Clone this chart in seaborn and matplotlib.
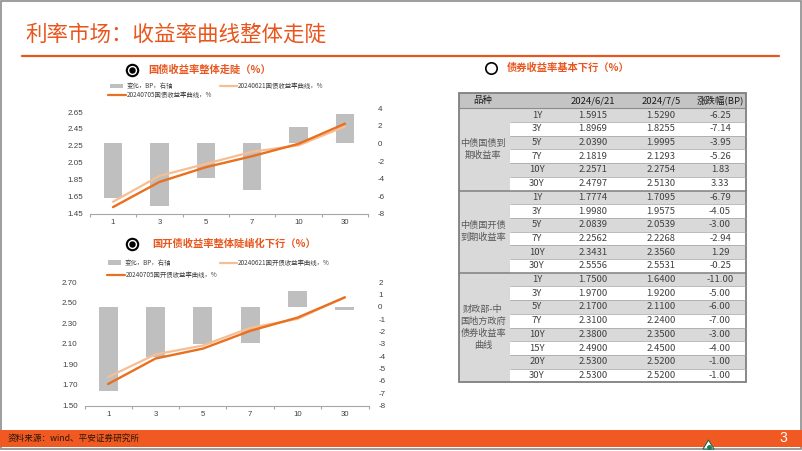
import numpy as np
import pandas as pd
import matplotlib
matplotlib.use('Agg')
import matplotlib.pyplot as plt
import seaborn as sns
from matplotlib.patches import Rectangle, Polygon
from matplotlib.lines import Line2D

# ---------------- data ----------------
tenors = ['1', '3', '5', '7', '10', '30']
gz_0621 = [1.5915, 1.8969, 2.0390, 2.1819, 2.2571, 2.4797]
gz_0705 = [1.5290, 1.8255, 1.9995, 2.1293, 2.2754, 2.5130]
gz_chg = [-6.25, -7.14, -3.95, -5.26, 1.83, 3.33]

gk_0621 = [1.7774, 1.9980, 2.0839, 2.2562, 2.3431, 2.5556]
gk_0705 = [1.7095, 1.9575, 2.0539, 2.2268, 2.3560, 2.5531]
gk_chg = [-6.79, -4.05, -3.00, -2.94, 1.29, -0.25]

gz_terms = ['1Y', '3Y', '5Y', '7Y', '10Y', '30Y']
gk_terms = ['1Y', '3Y', '5Y', '7Y', '10Y', '30Y']
df_terms = ['1Y', '3Y', '5Y', '7Y', '10Y', '15Y', '20Y', '30Y']
df_0621 = [1.75, 1.97, 2.17, 2.31, 2.38, 2.49, 2.53, 2.53]
df_0705 = [1.64, 1.92, 2.11, 2.24, 2.35, 2.45, 2.52, 2.52]
df_chg = [-11.00, -5.00, -6.00, -7.00, -3.00, -4.00, -1.00, -1.00]

group_labels = ['中债国债到\n期收益率', '中债国开债\n到期收益率', '财政部-中\n国地方政府\n债券收益率\n曲线']
header = ['品种', '', '2024/6/21', '2024/7/5', '涨跌幅(BP)']

# ---------------- style ----------------
sns.set_theme(style='white')
plt.rcParams['font.family'] = ['Liberation Sans', 'Noto Sans CJK SC', 'DejaVu Sans']
CJK = ['Noto Sans CJK SC', 'DejaVu Sans']
ORANGE = '#E8561E'
C0621 = '#F6BE94'
C0705 = '#E8701E'
BARC = '#BFBFBF'
TXT = '#404040'

W, H = 802, 451
fig = plt.figure(figsize=(W / 100, H / 100), dpi=100)

ov = fig.add_axes([0, 0, 1, 1])
ov.set_xlim(0, W)
ov.set_ylim(H, 0)
ov.axis('off')

# slide frame
ov.add_patch(Rectangle((0.8, 0.8), W - 1.6, 448.5, fill=False, ec='#8C8C8C', lw=1.2))
# title
ov.text(25, 35, '利率市场：收益率曲线整体走陡', fontsize=15.5, color=ORANGE,
        family=CJK, va='center', ha='left')
ov.add_line(Line2D([22, 779], [56, 56], color=ORANGE, lw=1.6))

# footer
ov.add_patch(Rectangle((0, 430), W, 17, color='#F05A22', lw=0))
ov.text(8, 438.5, '资料来源：wind、平安证券研究所', fontsize=6.2, color='#2A1608',
        family=CJK, va='center', ha='left')
ov.text(783, 438.5, '3', fontsize=10, color='white', va='center', ha='center')
ov.add_patch(Polygon([[703, 449], [708.5, 440], [714, 449]], closed=True,
                     fc='white', ec='#1E6B4E', lw=0.8))
ov.plot([708.5], [446.5], marker='o', ms=2.5, color='#1E7B5A')


def bullet(x, y, filled=True):
    ov.plot([x], [y], marker='o', ms=8.2, mfc='white', mec='black', mew=1.5 if filled else 1.2)
    if filled:
        ov.plot([x], [y], marker='o', ms=3.6, color='black')


def legend(x_bar, y1, x_l1, x_l2, y2, lab1, lab2):
    ov.add_patch(Rectangle((x_bar, y1 - 2.3), 13, 4.6, color=BARC, lw=0))
    ov.text(x_bar + 17, y1, '变化，BP，右轴', fontsize=4.6, color=TXT, family=CJK,
            va='center', ha='left')
    ov.add_line(Line2D([x_l1, x_l1 + 17], [y1, y1], color=C0621, lw=1.6))
    ov.text(x_l1 + 18, y1, lab1, fontsize=4.6, color=TXT, family=CJK, va='center', ha='left')
    ov.add_line(Line2D([x_l2, x_l2 + 18], [y2, y2], color=C0705, lw=1.6))
    ov.text(x_l2 + 19, y2, lab2, fontsize=4.6, color=TXT, family=CJK, va='center', ha='left')


# subtitles
bullet(131.7, 70)
ov.text(148, 70, '国债收益率整体走陡（%）', fontsize=7.4, color=ORANGE, family=CJK,
        va='center', ha='left', weight='bold')
legend(110, 86, 220, 108, 95, '20240621国债收益率曲线，%', '20240705国债收益率曲线，%')

bullet(132.3, 243.8)
ov.text(152.5, 244, '国开债收益率整体陡峭化下行（%）', fontsize=7.4, color=ORANGE, family=CJK,
        va='center', ha='left', weight='bold')
legend(108, 262.7, 220, 107, 275, '20240621国开债收益率曲线，%', '20240705国开债收益率曲线，%')

bullet(491, 67.7, filled=False)
ov.text(506.5, 68, '债券收益率基本下行（%）', fontsize=7.4, color=ORANGE, family=CJK,
        va='center', ha='left', weight='bold')


# ---------------- charts ----------------
def chart(rect, c0621, c0705, chg, ylim_l, yt_l, ylim_r, yt_r):
    x0, y0, x1, y1 = rect
    axl = fig.add_axes([x0 / W, 1 - y1 / H, (x1 - x0) / W, (y1 - y0) / H])
    axr = axl.twinx()
    pos = np.arange(len(tenors))
    bdf = pd.DataFrame({'pos': pos, 'chg': chg})
    sns.barplot(data=bdf, x='pos', y='chg', ax=axr, native_scale=True, color=BARC,
                width=0.4, saturation=1, linewidth=0)
    ldf = pd.DataFrame({'pos': pos, 'a': c0621, 'b': c0705})
    sns.lineplot(data=ldf, x='pos', y='a', ax=axl, color=C0621, lw=1.6)
    sns.lineplot(data=ldf, x='pos', y='b', ax=axl, color=C0705, lw=1.7)
    axl.set_zorder(axr.get_zorder() + 1)
    axl.patch.set_visible(False)
    axr.patch.set_visible(False)
    for a in (axl, axr):
        for s in a.spines.values():
            s.set_visible(False)
        a.set_xlabel('')
        a.set_ylabel('')
        a.grid(False)
    axl.spines['bottom'].set_visible(True)
    axl.spines['bottom'].set_color('#A6A6A6')
    axl.spines['bottom'].set_linewidth(0.8)
    axl.set_xlim(-0.5, len(tenors) - 0.5)
    axl.set_ylim(*ylim_l)
    axl.set_yticks(yt_l)
    axl.set_yticklabels([f'{v:.2f}' for v in yt_l])
    axr.set_ylim(*ylim_r)
    axr.set_yticks(yt_r)
    axr.set_yticklabels([f'{v:g}' for v in yt_r])
    axl.tick_params(axis='y', length=0, pad=5, labelsize=5.8, labelcolor=TXT)
    axr.tick_params(axis='y', length=0, pad=7, labelsize=5.8, labelcolor=TXT)
    axl.set_xticks(pos)
    axl.set_xticklabels(tenors)
    axl.set_xticks(np.arange(-0.5, len(tenors)), minor=True)
    axl.tick_params(axis='x', which='major', bottom=True, length=0, pad=4,
                    labelsize=5.6, labelcolor=TXT, labelbottom=True)
    axl.tick_params(axis='x', which='minor', bottom=True, length=2.5, width=0.8,
                    color='#A6A6A6', direction='out')


chart((89.8, 108.3, 368.2, 213.8), gz_0621, gz_0705, gz_chg,
      (1.45, 2.694), np.round(np.arange(1.45, 2.66, 0.2), 2),
      (-8, 4), np.arange(-8, 5, 2))
chart((84.5, 282.3, 368.5, 405.5), gk_0621, gk_0705, gk_chg,
      (1.50, 2.70), np.round(np.arange(1.50, 2.71, 0.2), 2),
      (-8, 2), np.arange(-8, 3, 1))

# ---------------- table ----------------
TX0, TX1 = 459, 746
LBL_R = 510
HDR_T, HDR_B = 93, 108.3
RH = 13.7
col_c = [483, 537, 593, 661, 720]
groups = [
    (group_labels[0], gz_terms, gz_0621, gz_0705, gz_chg),
    (group_labels[1], gk_terms, gk_0621, gk_0705, gk_chg),
    (group_labels[2], df_terms, df_0621, df_0705, df_chg),
]
ov.add_patch(Rectangle((TX0, HDR_T), TX1 - TX0, HDR_B - HDR_T, color='#C4C4C4', lw=0))
for j, h in enumerate(header):
    if h:
        ov.text(col_c[j], (HDR_T + HDR_B) / 2, h, fontsize=6.8, color='#1A1A1A',
                family=CJK, va='center', ha='center')
row = 0
for (lab, terms, a, b, c) in groups:
    top = HDR_B + row * RH
    n = len(terms)
    ov.add_patch(Rectangle((TX0, top), LBL_R - TX0, n * RH, color='#D9D9D9', lw=0))
    ov.text(col_c[0], top + n * RH / 2, lab, fontsize=6.6, color='#595959', family=CJK,
            va='center', ha='center', linespacing=1.42)
    for i in range(n):
        yt = top + i * RH
        fc = '#D9D9D9' if i % 2 == 0 else 'white'
        ov.add_patch(Rectangle((LBL_R, yt), TX1 - LBL_R, RH, color=fc, lw=0))
        yc = yt + RH / 2
        vals = [terms[i], f'{a[i]:.4f}', f'{b[i]:.4f}', f'{c[i]:.2f}']
        for j, v in enumerate(vals):
            ov.text(col_c[j + 1], yc, v, fontsize=6.8, color=TXT, family=CJK,
                    va='center', ha='center')
        if i > 0:
            ov.add_line(Line2D([LBL_R, TX1], [yt, yt], color='#A0A0A0', lw=0.5))
    if row > 0:
        ov.add_line(Line2D([TX0, TX1], [top, top], color='#7F7F7F', lw=1.1))
    row += n
ov.add_line(Line2D([TX0, TX1], [HDR_B, HDR_B], color='#8C8C8C', lw=0.8))
ov.add_patch(Rectangle((TX0, HDR_T), TX1 - TX0, HDR_B + row * RH - HDR_T, fill=False,
                       ec='#7F7F7F', lw=1.3))

fig.savefig('out.png', dpi=100)
